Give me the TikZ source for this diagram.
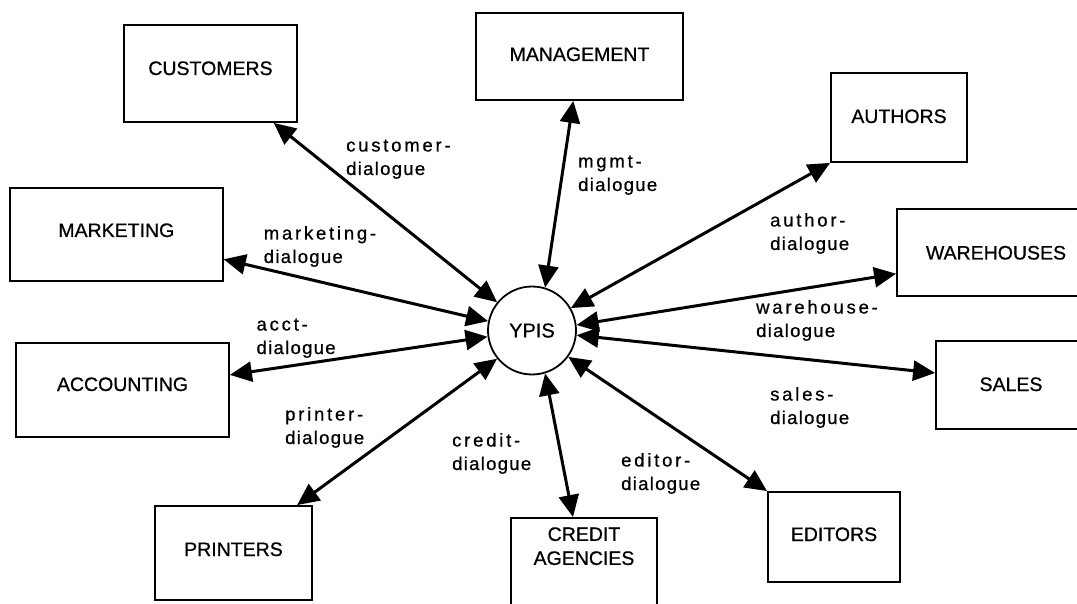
\documentclass[tikz,border=0pt]{standalone}
\usepackage{fontspec}
\setmainfont{Liberation Sans}[FakeBold=0.7]
\newfontfamily\dlgfont[LetterSpace=7,FakeBold=0.7]{Liberation Sans}
\newfontfamily\dlgwide[LetterSpace=15,FakeBold=0.7]{Liberation Sans}
\usetikzlibrary{arrows.meta}

\begin{document}
\begin{tikzpicture}[x=1pt, y=-1pt,
    box/.style={draw, line width=1.8pt, inner sep=0pt, text height=14pt, font=\fontsize{19.5pt}{24pt}\selectfont},
    dlg/.style={anchor=base west, align=left, inner sep=0pt, font=\dlgfont\fontsize{18.5pt}{23.5pt}\selectfont},
    arr/.style={{Triangle[length=22pt,width=20pt]}-{Triangle[length=22pt,width=20pt]}, line width=3pt}
]
\useasboundingbox (0,0) rectangle (1077,604);
\clip (0,0) rectangle (1077,604);

\node[draw, circle, line width=1.8pt, minimum size=88pt, inner sep=0pt, font=\fontsize{20pt}{24pt}\selectfont] (ypis) at (532,330.5) {YPIS};

\node[box, minimum width=173pt, minimum height=97pt, text depth=11pt] (cust) at (210.5,73.5) {CUSTOMERS};
\node[box, minimum width=207pt, minimum height=87pt, text depth=5pt] (mgmt) at (579.5,56.5) {MANAGEMENT};
\node[box, minimum width=136pt, minimum height=89pt, text depth=3pt] (auth) at (899,117.5) {AUTHORS};
\node[box, minimum width=213pt, minimum height=93pt, text depth=9pt] (mkt) at (116.3,234.5) {MARKETING};
\node[box, minimum width=198pt, minimum height=87pt, text depth=0pt] (ware) at (996,252.5) {WAREHOUSES};
\node[box, minimum width=213pt, minimum height=94pt, text depth=12pt] (acct) at (122.5,390) {ACCOUNTING};
\node[box, minimum width=150pt, minimum height=88pt, text depth=2pt] (sales) at (1011,385) {SALES};
\node[box, minimum width=157pt, minimum height=94pt, text depth=8pt] (prnt) at (233.5,553) {PRINTERS};
\node[box, minimum width=146pt, anchor=north, align=center, inner ysep=9pt, text height=38pt, text depth=100pt] (cred) at (584,517) {CREDIT\\AGENCIES};
\node[box, minimum width=132pt, minimum height=90pt, text depth=6pt] (edit) at (834,537) {EDITORS};

\node[dlg] (custdlg) at (346,175) {{\dlgwide customer-}\\dialogue};
\node[dlg] (mgmtdlg) at (578,191) {{\dlgwide mgmt-}\\dialogue};
\node[dlg] (authdlg) at (770,250) {{\dlgwide author-}\\dialogue};
\node[dlg] (mktdlg) at (263.6,263) {{\dlgwide marketing-}\\dialogue};
\node[dlg] (waredlg) at (756,337) {{\dlgwide warehouse-}\\dialogue};
\node[dlg] (acctdlg) at (256.4,354) {{\dlgwide acct-}\\dialogue};
\node[dlg] (salesdlg) at (770,424) {{\dlgwide sales-}\\dialogue};
\node[dlg] (prntdlg) at (285,444) {{\dlgwide printer-}\\dialogue};
\node[dlg] (creddlg) at (452,470) {{\dlgwide credit-}\\dialogue};
\node[dlg] (editdlg) at (621,490) {{\dlgwide editor-}\\dialogue};

\draw[arr] (cust.322) -- (ypis.141);
\draw[arr] (mgmt.262) -- (ypis.73);
\draw[arr] (auth.south west) -- (ypis.30);
\draw[arr] (mkt.347) -- (ypis.168);
\draw[arr] (ware.192) -- (ypis.7);
\draw[arr] (acct.8.5) -- (ypis.188);
\draw[arr] (sales.171) -- (ypis.354);
\draw[arr] (prnt.37) -- (ypis.219);
\draw[arr] ([xshift=-11pt]cred.north) -- (ypis.287);
\draw[arr] (edit.north west) -- (ypis.324);
\end{tikzpicture}
\end{document}
